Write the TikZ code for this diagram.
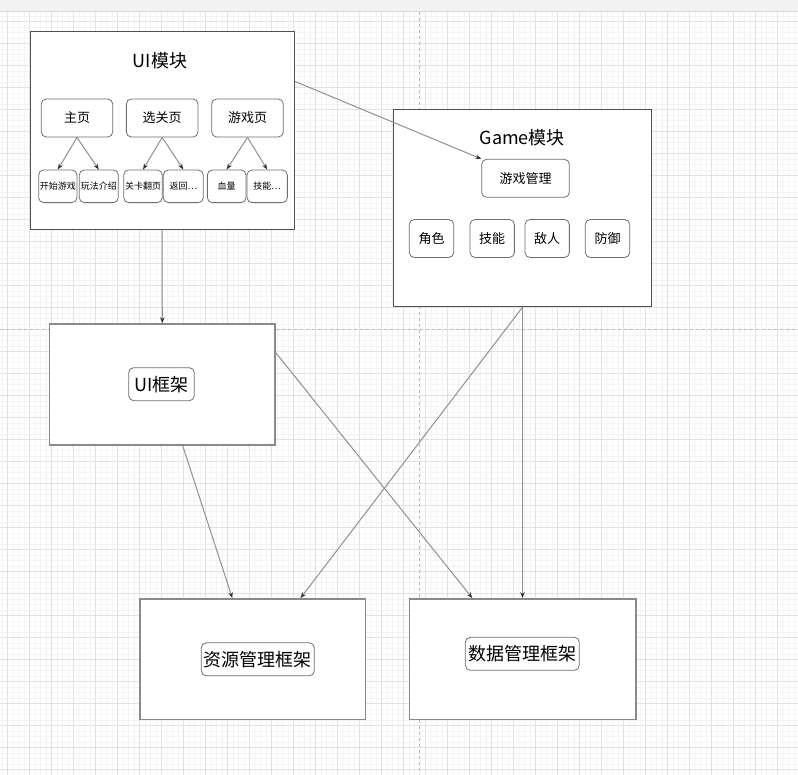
\documentclass[tikz,border=0pt]{standalone}
\usepackage{fontspec}
\setmainfont{Noto Sans CJK SC}
\usetikzlibrary{arrows.meta,calc}
\definecolor{gridminor}{HTML}{F4F4F4}
\definecolor{gridmajor}{HTML}{E2E2E2}
\definecolor{barfill}{HTML}{F1F2F4}
\definecolor{barline}{HTML}{DADCE0}
\definecolor{pagebreak}{HTML}{BDBDBD}
\definecolor{modline}{HTML}{505050}
\definecolor{frameline}{HTML}{8A8A8A}
\definecolor{subline}{HTML}{6E6E6E}
\definecolor{conn}{HTML}{909090}
\definecolor{tipcol}{HTML}{333333}
\tikzset{
  modbox/.style={draw=modline, line width=1pt, fill=white, inner sep=0pt},
  framebox/.style={draw=frameline, line width=1.6pt, fill=white, inner sep=0pt},
  subbox/.style={draw=subline, line width=0.8pt, fill=white, rounded corners=5pt, inner sep=0pt, font=\fontsize{13}{15}\selectfont, minimum height=38pt},
  smallbox/.style={draw=subline, line width=0.8pt, fill=white, rounded corners=5pt, inner sep=0pt, font=\fontsize{9}{11}\selectfont, minimum height=32.7pt},
  labbox/.style={draw=subline, line width=0.8pt, fill=white, rounded corners=5pt, inner sep=0pt, font=\fontsize{18}{20}\selectfont, minimum height=33pt},
  titletext/.style={inner sep=0pt, font=\fontsize{18}{20}\selectfont},
  conarrow/.style={draw=conn, line width=1pt, -{Stealth[length=6pt,width=4.5pt,color=tipcol]}},
}
\begin{document}
\begin{tikzpicture}[x=1pt,y=-1pt]
\useasboundingbox (0,0) rectangle (798,775);
% background
\fill[white] (0,0) rectangle (798,775);
\foreach \gx in {1.8,7.3,...,798} {\draw[gridminor, line width=0.5pt] (\gx,11.7) -- (\gx,775);}
\foreach \gy in {15.8,21.3,...,775} {\draw[gridminor, line width=0.5pt] (0,\gy) -- (798,\gy);}
\foreach \gx in {7.3,29.3,...,798} {\draw[gridmajor, line width=0.7pt] (\gx,11.7) -- (\gx,775);}
\foreach \gy in {21.3,43.3,...,775} {\draw[gridmajor, line width=0.7pt] (0,\gy) -- (798,\gy);}
\draw[pagebreak, line width=0.8pt, dash pattern=on 3pt off 3pt] (419.5,11.7) -- (419.5,775);
\draw[pagebreak, line width=0.8pt, dash pattern=on 3pt off 3pt] (0,329.3) -- (798,329.3);
\fill[barfill] (0,0) rectangle (798,11.5);
\draw[barline, line width=0.8pt] (0,11.5) -- (798,11.5);

% UI module
\node[modbox, minimum width=264pt, minimum height=198pt] (uim) at (162,131) {};
\node[titletext] (uimt) at (160,60.5) {UI模块};
\node[subbox, minimum width=71.4pt] (home) at (77,118) {主页};
\node[subbox, minimum width=71.7pt] (sel) at (162.2,118) {选关页};
\node[subbox, minimum width=71.6pt] (game) at (247.5,118) {游戏页};
\node[smallbox, minimum width=38.3pt] (s1) at (57.8,186.3) {开始游戏};
\node[smallbox, minimum width=39pt] (s2) at (98.8,186.3) {玩法介绍};
\node[smallbox, minimum width=38.6pt] (s3) at (143,186.3) {关卡翻页};
\node[smallbox, minimum width=40pt] (s4) at (183.3,186.3) {返回…};
\node[smallbox, minimum width=38.7pt] (s5) at (226.7,186.3) {血量};
\node[smallbox, minimum width=40.3pt] (s6) at (267.2,186.3) {技能…};

% Game module
\node[modbox, minimum width=258.4pt, minimum height=197.4pt] (gm) at (522.5,208) {};
\node[titletext] (gmt) at (522.3,137.3) {Game模块};
\node[subbox, minimum width=87.6pt] (gmgr) at (525.5,178.3) {游戏管理};
\node[subbox, minimum width=44.4pt] (g1) at (431.5,238.5) {角色};
\node[subbox, minimum width=44.3pt] (g2) at (492.2,238.5) {技能};
\node[subbox, minimum width=44.3pt] (g3) at (547.2,238.5) {敌人};
\node[subbox, minimum width=44.4pt] (g4) at (607.5,238.5) {防御};

% frameworks
\node[framebox, minimum width=225.3pt, minimum height=121pt] (uif) at (162.3,384.5) {};
\node[labbox, minimum width=65.6pt] (uifl) at (161.5,384.2) {UI框架};
\node[framebox, minimum width=225.7pt, minimum height=120.7pt] (res) at (252.8,659.3) {};
\node[labbox, minimum width=113pt] (resl) at (257.8,659.3) {资源管理框架};
\node[framebox, minimum width=226.4pt, minimum height=120.7pt] (data) at (522.5,659.3) {};
\node[labbox, minimum width=114pt] (datal) at (522.3,653.8) {数据管理框架};

% connectors
\draw[conarrow] (home.south) -- (s1.north);
\draw[conarrow] (home.south) -- (s2.north);
\draw[conarrow] (sel.south) -- (s3.north);
\draw[conarrow] (sel.south) -- (s4.north);
\draw[conarrow] (game.south) -- (s5.north);
\draw[conarrow] (game.south) -- (s6.north);
\draw[conarrow] ($(uim.north east)!0.25!(uim.south east)$) -- (gmgr.north west);
\draw[conarrow] (uim.south) -- (uif.north);
\draw[conarrow] ($(uif.south west)!0.59!(uif.south east)$) -- ($(res.north west)!0.41!(res.north east)$);
\draw[conarrow] ($(uif.north east)!0.24!(uif.south east)$) -- ($(data.north west)!0.28!(data.north east)$);
\draw[conarrow] (gm.south) -- ($(res.north west)!0.71!(res.north east)$);
\draw[conarrow] (gm.south) -- (data.north);
\end{tikzpicture}
\end{document}
